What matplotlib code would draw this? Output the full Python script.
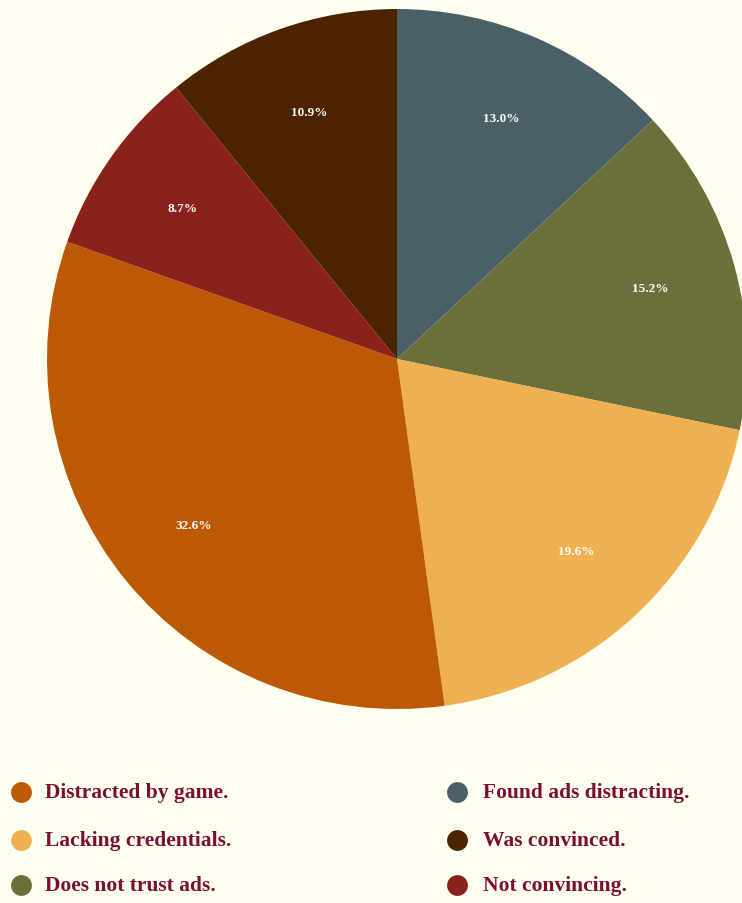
import matplotlib.pyplot as plt
from matplotlib.lines import Line2D

# survey responses (counts), clockwise from 12 o'clock
labels = ["Found ads distracting.", "Does not trust ads.", "Lacking credentials.",
          "Distracted by game.", "Not convincing.", "Was convinced."]
counts = [6, 7, 9, 15, 4, 5]
colors = ["#4a6066", "#6b703a", "#eeb050", "#bd5905", "#8a211b", "#4b2300"]

# legend order: two columns of three
legend_order = ["Distracted by game.", "Lacking credentials.", "Does not trust ads.",
                "Found ads distracting.", "Was convinced.", "Not convincing."]

bg = "#fffff0"
text_col = "#7a0f33"

W, H = 742, 904
fig = plt.figure(figsize=(W / 100, H / 100), dpi=100, facecolor=bg)

cx, cy, r = 397, 360, 350
ax = fig.add_axes([(cx - r) / W, (H - cy - r) / H, 2 * r / W, 2 * r / H])
ax.set_facecolor(bg)
wedges, texts, autotexts = ax.pie(
    counts, colors=colors, startangle=90, counterclock=False,
    autopct="%1.1f%%", pctdistance=0.75, radius=1,
    wedgeprops=dict(linewidth=0),
    textprops=dict(color="white", fontsize=9.5, fontweight="bold",
                   family="Liberation Serif"))
ax.set_xlim(-1, 1)
ax.set_ylim(-1, 1)
ax.set_aspect("equal")
ax.axis("off")

color_of = dict(zip(labels, colors))
for i, name in enumerate(legend_order):
    col, row = divmod(i, 3)
    mx = [21, 457][col]
    tx = [45, 483][col]
    my = [793, 841, 886][row]
    fig.add_artist(Line2D([mx / W], [1 - my / H], marker="o", markersize=15,
                          markerfacecolor=color_of[name], markeredgewidth=0,
                          linestyle="none", transform=fig.transFigure))
    fig.text(tx / W, 1 - my / H, name, color=text_col, fontsize=15.5,
             fontweight="bold", family="Liberation Serif", va="center", ha="left")

fig.savefig("out.png", dpi=100, facecolor=bg)
